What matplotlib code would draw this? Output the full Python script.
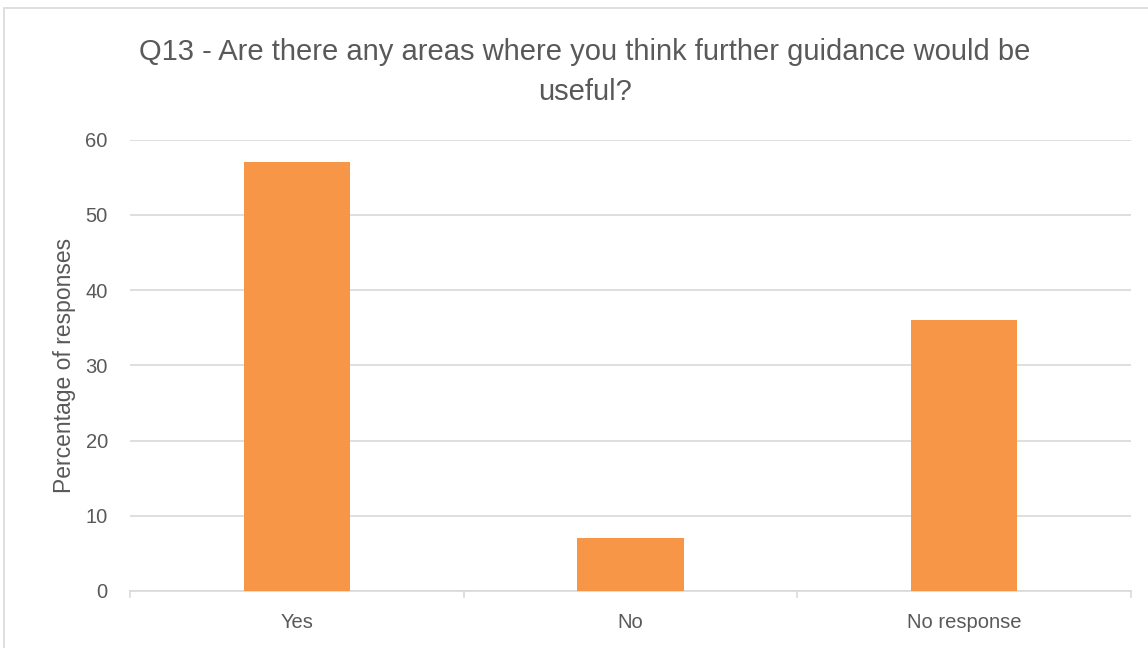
import matplotlib.pyplot as plt
from matplotlib.patches import Rectangle

# Survey responses to Q13, percentage of respondents
categories = ["Yes", "No", "No response"]
percentages = [57.1, 7.1, 36.0]
y_ticks = [0, 10, 20, 30, 40, 50, 60]

BAR_COLOR = "#F79646"
GRID_COLOR = "#D9D9D9"
TEXT_COLOR = "#595959"

plt.rcParams["font.family"] = ["Liberation Sans", "DejaVu Sans"]

W, H = 1148, 648
fig = plt.figure(figsize=(W / 100, H / 100), dpi=100)

# light chart-area border (cropped on right and bottom)
fig.patches.append(Rectangle((4 / W, -0.01), 1.2, 1 - 8 / H + 0.01,
                             transform=fig.transFigure, fill=False,
                             edgecolor=GRID_COLOR, linewidth=1.2))

ax = fig.add_axes([130 / W, 1 - 591 / H, (1131 - 130) / W, (591 - 139.7) / H])

x = range(len(categories))
ax.bar(x, percentages, width=0.318, color=BAR_COLOR, zorder=3)

ax.set_xlim(-0.5, len(categories) - 0.5)
ax.set_ylim(0, 60)
ax.set_yticks(y_ticks)
ax.set_xticks(list(x))
ax.set_xticklabels(categories)

ax.yaxis.grid(True, color=GRID_COLOR, linewidth=1.2, zorder=0)
for side in ("top", "right", "left"):
    ax.spines[side].set_visible(False)
ax.spines["bottom"].set_color(GRID_COLOR)
ax.spines["bottom"].set_linewidth(1.2)

# category boundary ticks below the axis
ax.tick_params(axis="x", length=0, pad=16, labelsize=14.5, labelcolor=TEXT_COLOR)
ax.tick_params(axis="y", length=0, pad=16, labelsize=14.5, labelcolor=TEXT_COLOR)
for b in [-0.5, 0.5, 1.5, 2.5]:
    ax.plot([b, b], [0, -0.8], color=GRID_COLOR, linewidth=1.2,
            clip_on=False, zorder=2)

ax.set_ylabel("Percentage of responses", fontsize=16.5, color=TEXT_COLOR, labelpad=7)

fig.text(585 / W, 1 - 72 / H,
         "Q13 - Are there any areas where you think further guidance would be\nuseful?",
         ha="center", va="center", fontsize=21, color=TEXT_COLOR, linespacing=1.5)

fig.savefig("out.png", dpi=100)
